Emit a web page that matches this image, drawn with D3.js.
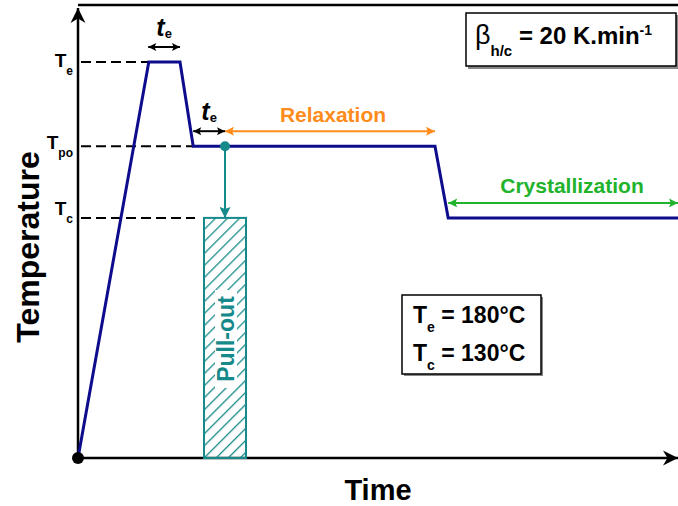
<!DOCTYPE html>
<html><head><meta charset="utf-8">
<script src="https://cdn.jsdelivr.net/npm/d3@7"></script>
<style>
body{margin:0;background:#fff}
text{font-family:"Liberation Sans",Arial,Helvetica,sans-serif;font-weight:bold}
</style>
</head><body>
<svg id="c" width="678" height="506"></svg>
<script>
// ---- data (schematic time units / °C) ----
const profileTime = [0, 11.8, 17, 19.2, 59.5, 61.7, 100];
const profileTemp = [53, 180, 180, 153, 153, 130, 130];
const levelNames = ["e", "po", "c"];
const levelTemps = [180, 153, 130];
const levelEnds = [11.8, 19.2, 19.5];
const holdSpans = [[11.7, 17], [19.2, 24.5]];
const relaxationSpan = [24.5, 59.5];
const crystallizationSpan = [61.7, 100];
const pulloutTime = 24.5;
const pulloutSpan = [21, 28];
const infoNames = ["e", "c"];
const infoValues = ["180", "130"];
const rateValue = "20";

const NAVY = "#0c0c8c", ORANGE = "#ff8c1a", GREEN = "#21b32b", TEAL = "#16898a";

const svg = d3.select("#c");
const x = d3.scaleLinear().domain([0, 100]).range([78, 678]);
const y = d3.scaleLinear().domain([53, 180]).range([458, 62]);

const defs = svg.append("defs");
function marker(id, color, len, wid) {
  defs.append("marker").attr("id", id)
    .attr("viewBox", "0 -5 10 10").attr("refX", 10).attr("refY", 0)
    .attr("markerUnits", "userSpaceOnUse")
    .attr("markerWidth", len).attr("markerHeight", wid)
    .attr("orient", "auto-start-reverse")
    .append("path").attr("d", "M0,-5L10,0L0,5L2,0Z").attr("fill", color);
}
marker("mk", "#000", 9, 8);
marker("mo", ORANGE, 11, 9);
marker("mg", GREEN, 11, 9);
marker("mt", TEAL, 12, 11);
defs.append("marker").attr("id", "ax")
  .attr("viewBox", "0 -5 10 10").attr("refX", 10).attr("refY", 0)
  .attr("markerUnits", "userSpaceOnUse")
  .attr("markerWidth", 15).attr("markerHeight", 18)
  .attr("orient", "auto")
  .append("path").attr("d", "M0,-5L10,0L0,5L3,0Z").attr("fill", "#000");

const hatch = defs.append("pattern").attr("id", "hatch")
  .attr("patternUnits", "userSpaceOnUse").attr("width", 8.5).attr("height", 8.5)
  .attr("patternTransform", "rotate(45)");
hatch.append("line").attr("x1", 0).attr("y1", 0).attr("x2", 0).attr("y2", 8.5)
  .attr("stroke", TEAL).attr("stroke-width", 2.6);

// ---- frame / axes ----
svg.append("line").attr("x1", x(0)).attr("x2", 678).attr("y1", 5).attr("y2", 5)
  .attr("stroke", "#000").attr("stroke-width", 2.5);
svg.append("line").attr("x1", x(0)).attr("x2", x(0)).attr("y1", y(53)).attr("y2", 8)
  .attr("stroke", "#000").attr("stroke-width", 2.5).attr("marker-end", "url(#ax)");
svg.append("line").attr("x1", x(0)).attr("x2", 678).attr("y1", y(53)).attr("y2", y(53))
  .attr("stroke", "#000").attr("stroke-width", 2.5).attr("marker-end", "url(#ax)");

// ---- dashed level lines + labels ----
const labelShift = [5, 3, -3];
levelTemps.forEach((t, i) => {
  svg.append("line").attr("x1", x(0) + 3).attr("x2", x(levelEnds[i]))
    .attr("y1", y(t)).attr("y2", y(t))
    .attr("stroke", "#000").attr("stroke-width", 2).attr("stroke-dasharray", "10,5");
  const tx = svg.append("text").attr("x", 73).attr("y", y(t) + labelShift[i])
    .attr("text-anchor", "end").attr("font-size", 19).attr("font-weight", "normal");
  tx.append("tspan").text("T");
  tx.append("tspan").attr("font-size", 12).attr("dy", 8).text(levelNames[i]);
});

// ---- pull-out rectangle ----
svg.append("rect").attr("x", x(pulloutSpan[0])).attr("y", y(130))
  .attr("width", x(pulloutSpan[1]) - x(pulloutSpan[0])).attr("height", y(53) - y(130))
  .attr("fill", "url(#hatch)").attr("stroke", TEAL).attr("stroke-width", 2);
const pcx = x(pulloutTime) + 1, pcy = 339;
svg.append("rect").attr("x", pcx - 11).attr("y", pcy - 49).attr("width", 22).attr("height", 98)
  .attr("fill", "#fff");
svg.append("text").attr("transform", `translate(${pcx + 8},${pcy}) rotate(-90)`)
  .attr("text-anchor", "middle").attr("font-size", 23).attr("fill", TEAL).text("Pull-out");

// ---- temperature profile ----
svg.append("path")
  .datum(profileTime.map((t, i) => [t, profileTemp[i]]))
  .attr("d", d3.line().x(d => x(d[0])).y(d => y(d[1])))
  .attr("fill", "none").attr("stroke", NAVY).attr("stroke-width", 3)
  .attr("stroke-linejoin", "miter");

// teal pull-out arrow
svg.append("line").attr("x1", x(pulloutTime)).attr("x2", x(pulloutTime))
  .attr("y1", y(153)).attr("y2", y(130))
  .attr("stroke", TEAL).attr("stroke-width", 2).attr("marker-end", "url(#mt)");
svg.append("circle").attr("cx", x(pulloutTime)).attr("cy", y(153)).attr("r", 5).attr("fill", TEAL);

// origin dot
svg.append("circle").attr("cx", x(0)).attr("cy", y(53)).attr("r", 6).attr("fill", "#000");

// ---- hold-time arrows ----
const holdLevels = [180, 153];
holdSpans.forEach((s, i) => {
  const ay = y(holdLevels[i]) - 15;
  svg.append("line").attr("x1", x(s[0])).attr("x2", x(s[1])).attr("y1", ay).attr("y2", ay)
    .attr("stroke", "#000").attr("stroke-width", 2)
    .attr("marker-start", "url(#mk)").attr("marker-end", "url(#mk)");
  const cx = (x(s[0]) + x(s[1])) / 2;
  const t = svg.append("text").attr("x", cx).attr("y", ay - 11).attr("text-anchor", "middle")
    .attr("font-size", 25).attr("font-style", "italic");
  t.append("tspan").text("t");
  t.append("tspan").attr("font-size", 13).attr("font-style", "normal").attr("dy", 2).text("e");
});

// relaxation
{
  const ay = y(153) - 15;
  svg.append("line").attr("x1", x(relaxationSpan[0])).attr("x2", x(relaxationSpan[1]))
    .attr("y1", ay).attr("y2", ay).attr("stroke", ORANGE).attr("stroke-width", 2)
    .attr("marker-start", "url(#mo)").attr("marker-end", "url(#mo)");
  svg.append("text").attr("x", (x(relaxationSpan[0]) + x(relaxationSpan[1])) / 2 + 3).attr("y", ay - 9)
    .attr("text-anchor", "middle").attr("font-size", 21).attr("fill", ORANGE).text("Relaxation");
}
// crystallization
{
  const ay = y(130) - 15;
  svg.append("line").attr("x1", x(crystallizationSpan[0])).attr("x2", x(crystallizationSpan[1]))
    .attr("y1", ay).attr("y2", ay).attr("stroke", GREEN).attr("stroke-width", 2)
    .attr("marker-start", "url(#mg)").attr("marker-end", "url(#mg)");
  svg.append("text").attr("x", 572).attr("y", ay - 10)
    .attr("text-anchor", "middle").attr("font-size", 21).attr("fill", GREEN).text("Crystallization");
}

// ---- rate box ----
svg.append("rect").attr("x", 468).attr("y", 15).attr("width", 211).attr("height", 54).attr("fill", "#888");
svg.append("rect").attr("x", 466).attr("y", 13).attr("width", 210).attr("height", 53)
  .attr("fill", "#fff").attr("stroke", "#000").attr("stroke-width", 1.5);
{
  const t = svg.append("text").attr("x", 475).attr("y", 44).attr("font-size", 24);
  t.append("tspan").attr("font-weight", "normal").attr("font-size", 27).text("β");
  t.append("tspan").attr("font-size", 15).attr("dy", 12).text("h/c");
  t.append("tspan").attr("dy", -12).text(` = ${rateValue} K.min`);
  t.append("tspan").attr("font-size", 14).attr("dy", -9).text("-1");
}

// ---- info box ----
svg.append("rect").attr("x", 404).attr("y", 297).attr("width", 139).attr("height", 79).attr("fill", "#888");
svg.append("rect").attr("x", 402).attr("y", 295).attr("width", 139).attr("height", 79)
  .attr("fill", "#fff").attr("stroke", "#000").attr("stroke-width", 1.5);
infoNames.forEach((n, i) => {
  const t = svg.append("text").attr("x", 413).attr("y", 323 + i * 38).attr("font-size", 23);
  t.append("tspan").text("T");
  t.append("tspan").attr("font-size", 14).attr("dy", 9).text(n);
  t.append("tspan").attr("dy", -9).text(` = ${infoValues[i]}°C`);
});

// ---- axis titles ----
svg.append("text").attr("transform", "translate(39,247) rotate(-90)")
  .attr("text-anchor", "middle").attr("font-size", 32).text("Temperature");
svg.append("text").attr("x", 378).attr("y", 500).attr("text-anchor", "middle")
  .attr("font-size", 29).text("Time");
</script>
</body></html>
